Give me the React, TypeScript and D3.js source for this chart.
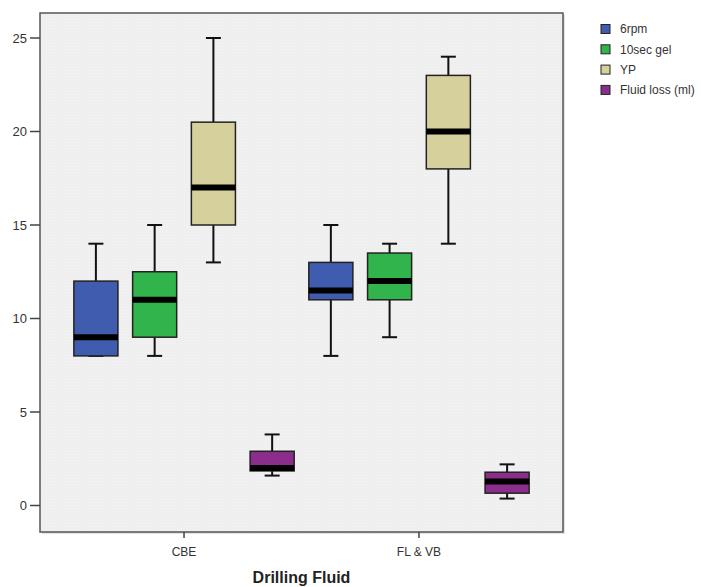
import * as d3 from "d3";

// categories on the x axis and the four measured series
const categories = ["CBE", "FL & VB"];
const seriesNames = ["6rpm", "10sec gel", "YP", "Fluid loss (ml)"];
const seriesColors = ["#3f5caf", "#31b44b", "#d6d09c", "#8b2d8a"];

// five-number summaries [min, q1, median, q3, max], one per category
const rpm6 = [
  [8, 8, 9, 12, 14],
  [8, 11, 11.5, 13, 15],
];
const gel10 = [
  [8, 9, 11, 12.5, 15],
  [9, 11, 12, 13.5, 14],
];
const yp = [
  [13, 15, 17, 20.5, 25],
  [14, 18, 20, 23, 24],
];
const fluidLoss = [
  [1.6, 1.85, 2.0, 2.9, 3.8],
  [0.37, 0.66, 1.28, 1.78, 2.2],
];
const yTicks = [0, 5, 10, 15, 20, 25];

const W = 701;
const H = 587;
const PLOT = { left: 40, top: 13, right: 563, bottom: 532 };
const FONT = "Liberation Sans, Arial, sans-serif";

export default function App() {
  const all = [rpm6, gel10, yp, fluidLoss];

  const x = d3
    .scalePoint<string>()
    .domain(categories)
    .range([PLOT.left, PLOT.right])
    .padding(0.613);

  const sub = d3
    .scaleBand<string>()
    .domain(seriesNames)
    .range([-117.5, 117.5])
    .paddingInner(0.25)
    .paddingOuter(0.125);

  const y = d3.scaleLinear().domain([0, 25]).range([505.5, 38]);

  const bw = sub.bandwidth();
  const capW = 15;

  return (
    <div style={{ position: "absolute", left: 0, top: 0 }}>
      <svg width={W} height={H} style={{ display: "block", background: "#fff" }}>
        <defs>
          <pattern id="dots" width="3" height="3" patternUnits="userSpaceOnUse">
            <rect width="3" height="3" fill="#efefef" />
            <rect x="1" y="1" width="1" height="1" fill="#f4f4f4" />
          </pattern>
        </defs>

        {/* plot frame */}
        <rect x={PLOT.left + 2} y={PLOT.top + 2} width={PLOT.right - PLOT.left} height={PLOT.bottom - PLOT.top} fill="#e2e2e2" />
        <rect
          x={PLOT.left}
          y={PLOT.top}
          width={PLOT.right - PLOT.left}
          height={PLOT.bottom - PLOT.top}
          fill="url(#dots)"
          stroke="#555"
          strokeWidth={1.5}
        />

        {/* y axis */}
        {yTicks.map(t => (
          <g key={t} transform={`translate(0,${y(t)})`}>
            <line x1={30} x2={PLOT.left} stroke="#444" strokeWidth={1.5} />
            <text x={27} dy="0.35em" textAnchor="end" fontFamily={FONT} fontSize={13} fill="#333">
              {t}
            </text>
          </g>
        ))}

        {/* x axis */}
        {categories.map(c => (
          <g key={c} transform={`translate(${x(c)},0)`}>
            <line y1={PLOT.bottom} y2={PLOT.bottom + 6} stroke="#444" strokeWidth={1.5} />
            <text y={556} textAnchor="middle" fontFamily={FONT} fontSize={12} fill="#333">
              {c}
            </text>
          </g>
        ))}
        <text
          x={(PLOT.left + PLOT.right) / 2}
          y={583}
          textAnchor="middle"
          fontFamily={FONT}
          fontSize={16}
          fontWeight="bold"
          fill="#222"
        >
          Drilling Fluid
        </text>

        {/* boxes */}
        {categories.map((c, ci) =>
          seriesNames.map((s, si) => {
            const [mn, q1, med, q3, mx] = all[si][ci];
            const cx = (x(c) as number) + (sub(s) as number) + bw / 2;
            const left = cx - bw / 2;
            return (
              <g key={c + s}>
                <line x1={cx} x2={cx} y1={y(mx)} y2={y(q3)} stroke="#111" strokeWidth={2} />
                <line x1={cx} x2={cx} y1={y(q1)} y2={y(mn)} stroke="#111" strokeWidth={2} />
                <line x1={cx - capW / 2} x2={cx + capW / 2} y1={y(mx)} y2={y(mx)} stroke="#111" strokeWidth={2} />
                <line x1={cx - capW / 2} x2={cx + capW / 2} y1={y(mn)} y2={y(mn)} stroke="#111" strokeWidth={2} />
                <rect
                  x={left}
                  y={y(q3)}
                  width={bw}
                  height={y(q1) - y(q3)}
                  fill={seriesColors[si]}
                  stroke="#222"
                  strokeWidth={1.5}
                />
                <line x1={left} x2={left + bw} y1={y(med)} y2={y(med)} stroke="#000" strokeWidth={6} />
              </g>
            );
          })
        )}

        {/* legend */}
        {seriesNames.map((s, i) => (
          <g key={s} transform={`translate(601,${29 + i * 20.3})`}>
            <rect x={0} y={-4.5} width={9} height={9} fill={seriesColors[i]} stroke="#222" strokeWidth={1} />
            <text x={19} dy="0.35em" fontFamily={FONT} fontSize={12} fill="#333">
              {s}
            </text>
          </g>
        ))}
      </svg>
    </div>
  );
}
